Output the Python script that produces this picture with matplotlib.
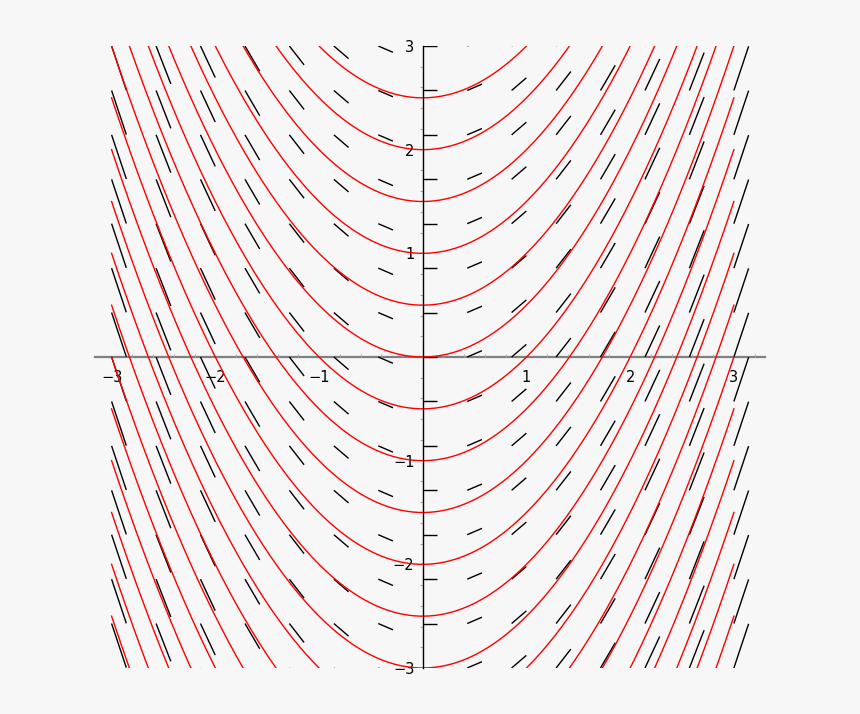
import numpy as np
import matplotlib
matplotlib.use("Agg")
import matplotlib.pyplot as plt
from matplotlib.collections import LineCollection
from matplotlib.ticker import MultipleLocator, FixedLocator

# Slope field for dy/dx = x, with solution curves y = x^2/2 + C
grid_x = [-3.0, -2.571, -2.143, -1.714, -1.286, -0.857, -0.429, 0.0,
          0.429, 0.857, 1.286, 1.714, 2.143, 2.571, 3.0]
grid_y = [-3.0, -2.571, -2.143, -1.714, -1.286, -0.857, -0.429, 0.0,
          0.429, 0.857, 1.286, 1.714, 2.143, 2.571, 3.0]
seg_dx = 0.142
curve_C = [-7.0, -6.5, -6.0, -5.5, -5.0, -4.5, -4.0, -3.5, -3.0, -2.5, -2.0,
           -1.5, -1.0, -0.5, 0.0, 0.5, 1.0, 1.5, 2.0, 2.5]
x_ticks = [-3, -2, -1, 1, 2, 3]
y_ticks = [-3, -2, -1, 1, 2, 3]


def slope(x, y):
    return x


bg = "#f7f7f7"
fig = plt.figure(figsize=(8.6, 7.14), dpi=100, facecolor=bg)
ax = fig.add_axes([95 / 860, 46 / 714, 670 / 860, 622 / 714])
ax.set_facecolor(bg)
ax.set_xlim(-3.16, 3.30)
ax.set_ylim(-3.0, 3.0)

# slope segments
segs = []
for gx in grid_x:
    for gy in grid_y:
        m = slope(gx, gy)
        segs.append([(gx, gy), (gx + seg_dx, gy + m * seg_dx)])
lc = LineCollection(segs, colors="black", linewidths=1.0, zorder=2)
ax.add_collection(lc)

# solution curves
xs = np.linspace(-3, 3, 600)
for c in curve_C:
    ax.plot(xs, xs ** 2 / 2 + c, color="red", lw=1.0, zorder=3)

# axes through origin
for s in ["top", "right"]:
    ax.spines[s].set_visible(False)
ax.spines["left"].set_position(("data", 0))
ax.spines["bottom"].set_position(("data", 0))
ax.spines["left"].set_color("black")
ax.spines["left"].set_linewidth(1.0)
ax.spines["bottom"].set_color("#808080")
ax.spines["bottom"].set_linewidth(1.6)
ax.spines["left"].set_zorder(4)
ax.spines["bottom"].set_zorder(1)

ax.xaxis.set_major_locator(FixedLocator(x_ticks))
ax.yaxis.set_major_locator(FixedLocator(y_ticks))
ax.xaxis.set_minor_locator(MultipleLocator(0.2))
ax.yaxis.set_minor_locator(MultipleLocator(0.2))
ax.set_xticklabels([str(t).replace("-", "\u2212") for t in x_ticks])
ax.set_yticklabels([str(t).replace("-", "\u2212") for t in y_ticks])
ax.tick_params(axis="x", which="major", length=0, pad=9, labelsize=10.5, colors="black")
ax.tick_params(axis="y", which="major", length=0, pad=6, labelsize=10.5, colors="black")
ax.tick_params(axis="x", which="minor", length=2, width=0.8, direction="in", color="#aaaaaa")
ax.tick_params(axis="y", which="minor", length=2, width=0.8, direction="out", color="#aaaaaa")

fig.savefig("out.png", dpi=100, facecolor=bg)
